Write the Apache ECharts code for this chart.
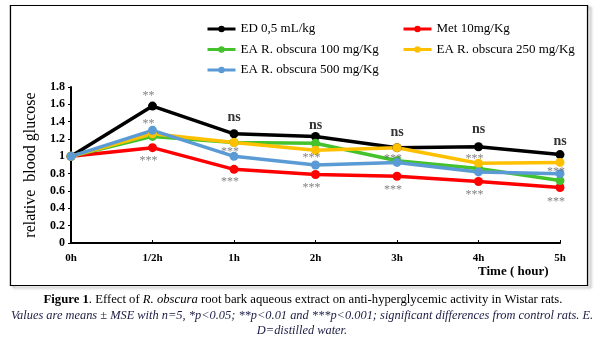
<!DOCTYPE html>
<html>
<head>
<meta charset="utf-8">
<script src="https://cdn.jsdelivr.net/npm/echarts@6/dist/echarts.min.js"></script>
<style>
  html, body { margin: 0; padding: 0; background: #fff; }
  #chart { width: 605px; height: 338px; }
</style>
</head>
<body>
<div id="chart"></div>
<script>
// Time points after dosing
var hours = ['0h', '1/2h', '1h', '2h', '3h', '4h', '5h'];

// Relative blood glucose per group
var edWater = [1, 1.58, 1.26, 1.23, 1.10, 1.11, 1.02];
var met10 = [1, 1.10, 0.85, 0.79, 0.77, 0.71, 0.64];
var ea100 = [1, 1.23, 1.16, 1.15, 0.95, 0.86, 0.72];
var ea250 = [1, 1.26, 1.16, 1.07, 1.10, 0.92, 0.93];
var ea500 = [1, 1.30, 1.00, 0.90, 0.93, 0.82, 0.80];

// Significance marks: time point, height on the glucose scale, text
var nsHours = ['1h', '2h', '3h', '4h', '5h'];
var nsLevels = [1.44, 1.35, 1.27, 1.30, 1.16];
var starHours = ['1/2h', '1/2h', '1/2h', '1h', '1h', '2h', '2h', '3h', '3h', '4h', '4h', '5h', '5h'];
var starLevels = [1.73, 1.41, 0.98, 1.085, 0.735, 1.015, 0.67, 1.0, 0.65, 1.0, 0.59, 0.855, 0.51];
var starTexts = ['**', '**', '***', '***', '***', '***', '***', '***', '***', '***', '***', '***', '***'];

var yTicks = { min: 0, max: 1.8, step: 0.2 };

var serif = "'Liberation Serif', 'Times New Roman', serif";

function lineSeries(name, values, color) {
  return {
    name: name,
    type: 'line',
    data: values,
    symbol: 'circle',
    symbolSize: 9,
    lineStyle: { color: color, width: 3.5 },
    itemStyle: { color: color },
    z: 3
  };
}

var chart = echarts.init(document.getElementById('chart'));

var legendText = { fontFamily: serif, fontSize: 13, color: '#000', lineHeight: 14 };
var legendBase = {
  orient: 'vertical', top: 17,
  itemWidth: 28, itemHeight: 8, itemGap: 6.5,
  textStyle: legendText,
  lineStyle: { width: 3 }
};

chart.setOption({
  animation: false,
  backgroundColor: '#fff',
  grid: { left: 71, right: 45, top: 87, bottom: 95 },
  legend: [
    Object.assign({}, legendBase, {
      left: 201,
      data: ['ED 0,5 mL/kg', 'EA R. obscura 100 mg/Kg', 'EA R. obscura 500 mg/Kg']
    }),
    Object.assign({}, legendBase, {
      left: 397,
      data: ['Met 10mg/Kg', 'EA R. obscura 250 mg/Kg']
    })
  ],
  xAxis: {
    type: 'category',
    data: hours,
    boundaryGap: false,
    axisLine: { lineStyle: { color: '#000', width: 2 } },
    axisTick: { show: true, inside: true, length: 3, lineStyle: { color: '#000', width: 1 } },
    axisLabel: { fontFamily: serif, fontWeight: 'bold', fontSize: 11, color: '#000', margin: 10 },
    splitLine: { show: false }
  },
  yAxis: {
    type: 'value',
    min: yTicks.min,
    max: yTicks.max,
    interval: yTicks.step,
    name: 'relative  blood glucose',
    nameLocation: 'middle',
    nameRotate: 90,
    nameGap: 26,
    nameTextStyle: { fontFamily: serif, fontSize: 16, color: '#000' },
    axisLine: { show: true, lineStyle: { color: '#000', width: 2 } },
    axisTick: { show: true, length: 3, lineStyle: { color: '#000', width: 1 } },
    axisLabel: { fontFamily: serif, fontWeight: 'bold', fontSize: 12, color: '#000', margin: 6 },
    splitLine: { show: false }
  },
  graphic: [
    {
      type: 'rect',
      shape: { x: 10.5, y: 5.5, width: 577, height: 280 },
      style: { fill: 'none', stroke: '#000', lineWidth: 1.2,
               shadowBlur: 3, shadowOffsetX: 3, shadowOffsetY: 2, shadowColor: 'rgba(0,0,0,0.45)' },
      z: -10
    },
    {
      type: 'rect',
      shape: { x: 10.5, y: 5.5, width: 577, height: 280 },
      style: { fill: '#fff', stroke: '#000', lineWidth: 1.2 },
      z: -9
    },
    {
      type: 'text',
      left: 478, top: 265,
      style: { text: 'Time ( hour)', fontFamily: serif, fontWeight: 'bold', fontSize: 13, fill: '#000' }
    },
    {
      type: 'text',
      x: 303, y: 300,
      style: {
        text: '{b|Figure 1}. Effect of {i|R. obscura} root bark aqueous extract on anti-hyperglycemic activity in Wistar rats.',
        fontFamily: serif, fontSize: 12.7, fill: '#000', align: 'center', verticalAlign: 'middle',
        rich: {
          b: { fontFamily: serif, fontSize: 12.7, fontWeight: 'bold', fill: '#000' },
          i: { fontFamily: serif, fontSize: 12.7, fontStyle: 'italic', fill: '#000' }
        }
      }
    },
    {
      type: 'text',
      x: 302, y: 316,
      style: {
        text: 'Values are means \u00b1 MSE with n=5, *p<0.05; **p<0.01 and ***p<0.001; significant differences from control rats. E.',
        fontFamily: serif, fontSize: 12.4, fontStyle: 'italic', fill: '#1c1c44', align: 'center', verticalAlign: 'middle'
      }
    },
    {
      type: 'text',
      x: 302, y: 331,
      style: {
        text: 'D=distilled water.',
        fontFamily: serif, fontSize: 12.4, fontStyle: 'italic', fill: '#1c1c44', align: 'center', verticalAlign: 'middle'
      }
    }
  ],
  series: [
    lineSeries('ED 0,5 mL/kg', edWater, '#000000'),
    lineSeries('Met 10mg/Kg', met10, '#ff0000'),
    lineSeries('EA R. obscura 100 mg/Kg', ea100, '#44c22c'),
    lineSeries('EA R. obscura 250 mg/Kg', ea250, '#ffc000'),
    lineSeries('EA R. obscura 500 mg/Kg', ea500, '#5b9bd5'),
    {
      name: 'ns',
      type: 'scatter',
      symbolSize: 0,
      data: nsHours.map(function (h, i) { return [h, nsLevels[i]]; }),
      label: {
        show: true, position: 'inside', formatter: 'ns',
        fontFamily: serif, fontWeight: 'bold', fontSize: 14, color: '#000', offset: [0, -1]
      },
      z: 5
    },
    {
      name: 'stars',
      type: 'scatter',
      symbolSize: 0,
      data: starHours.map(function (h, i) { return { value: [h, starLevels[i]], text: starTexts[i] }; }),
      label: {
        show: true, position: 'inside',
        formatter: function (p) { return p.data.text; },
        fontFamily: serif, fontSize: 12, color: '#5f5f5f', offset: [-4, 3]
      },
      z: 5
    }
  ]
});
</script>
</body>
</html>
